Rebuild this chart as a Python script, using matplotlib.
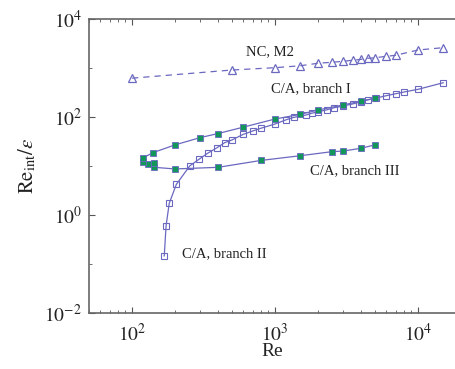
import matplotlib
matplotlib.use("Agg")
import matplotlib.pyplot as plt
from matplotlib.ticker import LogLocator, NullFormatter

plt.rcParams['font.family'] = ['Liberation Serif', 'DejaVu Serif']
plt.rcParams['mathtext.fontset'] = 'stix'

# NC, M2 (open triangles, dashed)
re_nc = [100, 500, 1000, 1500, 2000, 2500, 3000, 3500, 4000, 4500, 5000, 6000, 7000, 10000, 15000]
val_nc = [620, 910, 1015, 1110, 1250, 1310, 1370, 1440, 1500, 1580, 1620, 1730, 1820, 2330, 2600]

# C/A branches II and I (open squares)
re_open = [168, 173, 182, 204, 253, 296, 338, 393, 444, 500, 597, 701, 798, 1000, 1200,
           1350, 1650, 1800, 2000, 2300, 2600, 3000, 3500, 4000, 4500, 5100, 6000, 7000,
           8000, 10000, 15000]
val_open = [0.146, 0.6, 1.73, 4.2, 10, 13.9, 18.2, 23.6, 29.9, 34, 44, 52, 59, 72, 88,
            98, 110, 119, 128, 140, 155, 168, 185, 205, 225, 244, 272, 299,
            324, 367, 500]

# C/A branch III joined to branch I (filled squares)
re_fill = [5000, 4000, 3000, 2500, 1500, 800, 400, 200, 143, 142, 129, 119, 120, 140,
           200, 300, 400, 600, 1000, 1500, 2000, 3000, 4000, 5000]
val_fill = [27, 23, 20.2, 19.6, 16.2, 13.0, 9.4, 8.7, 9.4, 11.4, 11.0, 11.9, 14.8, 18.7,
            27, 38, 46, 62, 91, 113, 139, 176, 212, 241]

line_col = '#6b68c0'
green = '#12965a'

fig = plt.figure(figsize=(4.55, 3.69), dpi=100)
ax = fig.add_axes([0.1956, 0.1518, 0.8044, 0.7967])

ax.plot(re_nc, val_nc, ls=(0, (5, 4)), lw=0.9, color=line_col, marker='^',
        ms=6, mfc='none', mec=line_col, mew=0.9)
ax.plot(re_open, val_open, ls='-', lw=0.9, color=line_col, marker='s',
        ms=4.5, mfc='none', mec=line_col, mew=0.8)
ax.plot(re_fill, val_fill, ls='-', lw=0.9, color=line_col, marker='s',
        ms=5, mfc=green, mec=line_col, mew=0.6)

ax.set_xscale('log')
ax.set_yscale('log')
ax.set_xlim(50, 18150)
ax.set_ylim(1e-2, 1e4)

ax.set_xticks([1e2, 1e3, 1e4])
ax.set_yticks([1e-2, 1e0, 1e2, 1e4])
ax.set_xticklabels([r'$10^2$', r'$10^3$', r'$10^4$'])
ax.set_yticklabels([r'$10^{-2}$', r'$10^0$', r'$10^2$', r'$10^4$'])
ax.xaxis.set_minor_locator(LogLocator(base=10, subs=range(2, 10), numticks=20))
ax.yaxis.set_minor_locator(LogLocator(base=10, subs=[10], numticks=20))
ax.xaxis.set_minor_formatter(NullFormatter())
ax.yaxis.set_minor_formatter(NullFormatter())

ax.tick_params(which='both', direction='in', top=True, right=False, colors='#555555',
               labelcolor='#222222', labelsize=14)
ax.tick_params(which='major', length=4, width=0.8)
ax.tick_params(which='minor', length=2, width=0.6)
ax.tick_params(axis='x', pad=7)
ax.tick_params(axis='y', pad=5)
for side in ('left', 'bottom', 'top'):
    ax.spines[side].set_color('#666666')
    ax.spines[side].set_linewidth(1.2)
ax.spines['right'].set_visible(False)

ax.set_xlabel('Re', fontsize=14, color='#222222', labelpad=-1)
ax.set_ylabel(r'$\mathrm{Re}_{\mathrm{int}}/\varepsilon$', fontsize=15, color='#222222', labelpad=4)

txt = dict(fontsize=10.5, color='#222222', ha='center', va='center')
ax.text(927, 2120, 'NC, M2', **txt)
ax.text(1795, 373, 'C/A, branch I', **txt)
ax.text(441, 0.16, 'C/A, branch II', **txt)
ax.text(3640, 7.9, 'C/A, branch III', **txt)

fig.savefig('out.png', dpi=100)
